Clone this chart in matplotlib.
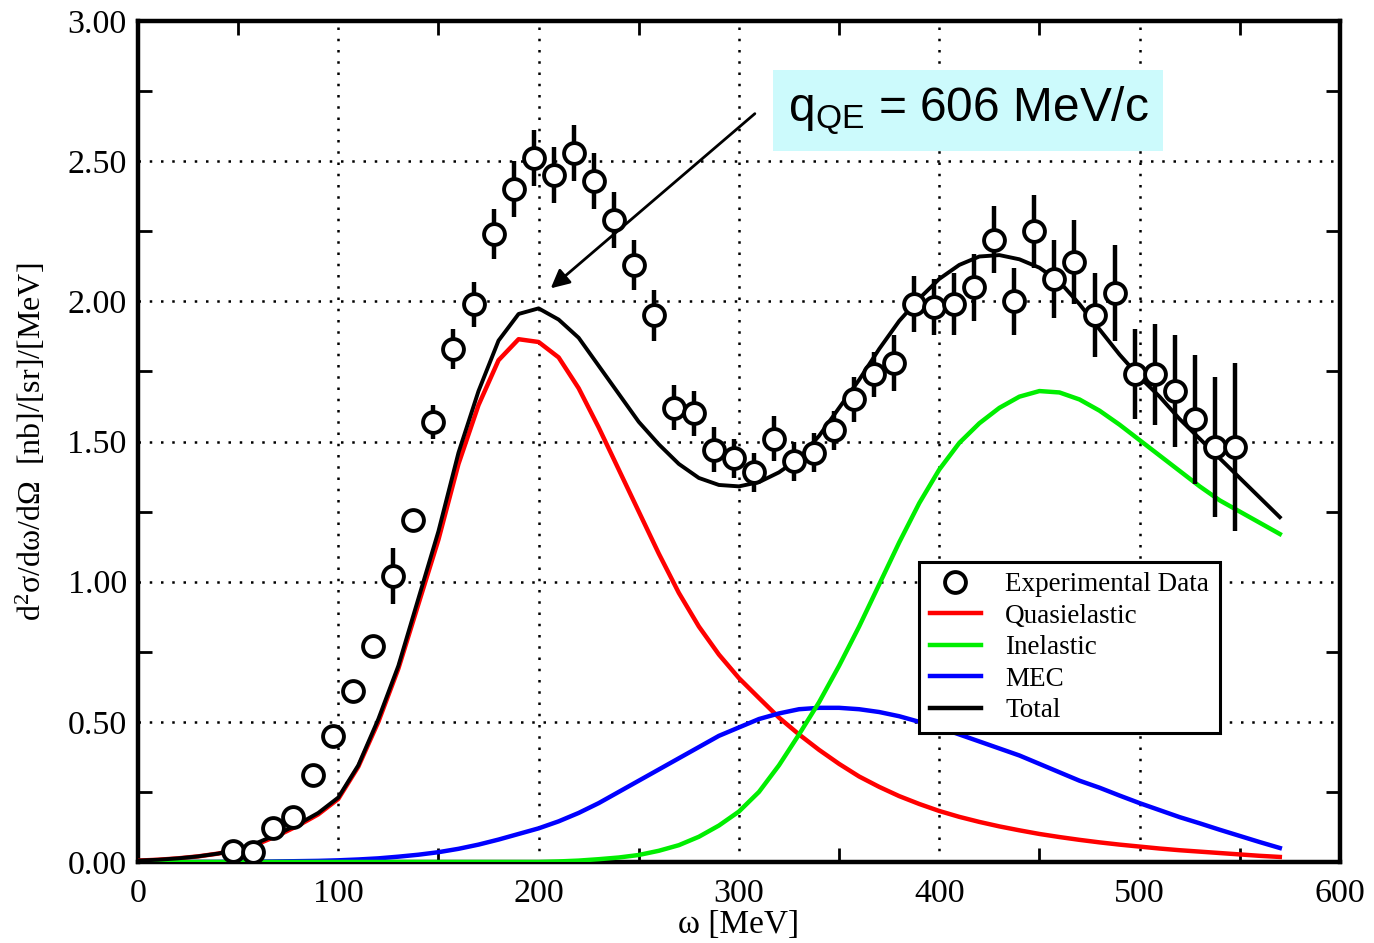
import matplotlib
matplotlib.use('Agg')
import matplotlib.pyplot as plt
from matplotlib.lines import Line2D
from matplotlib.ticker import MultipleLocator

plt.rcParams['font.family'] = ['Liberation Serif', 'DejaVu Serif']
plt.rcParams['mathtext.fontset'] = 'custom'
plt.rcParams['mathtext.rm'] = 'Liberation Sans'
plt.rcParams['mathtext.it'] = 'Liberation Sans:italic'

# experimental points: omega [MeV], cross section, error
exp_x = [47.5, 57.5, 67.5, 77.5, 87.5, 97.5, 107.5, 117.5, 127.5, 137.5,
         147.5, 157.5, 167.5, 177.5, 187.5, 197.5, 207.5, 217.5, 227.5, 237.5,
         247.5, 257.5, 267.5, 277.5, 287.5, 297.5, 307.5, 317.5, 327.5, 337.5,
         347.5, 357.5, 367.5, 377.5, 387.5, 397.5, 407.5, 417.5, 427.5, 437.5,
         447.5, 457.5, 467.5, 477.5, 487.5, 497.5, 507.5, 517.5, 527.5, 537.5,
         547.5]
exp_y = [0.04, 0.035, 0.12, 0.16, 0.31, 0.45, 0.61, 0.77, 1.02, 1.22,
         1.57, 1.83, 1.99, 2.24, 2.40, 2.51, 2.45, 2.53, 2.43, 2.29,
         2.13, 1.95, 1.62, 1.60, 1.47, 1.44, 1.39, 1.51, 1.43, 1.46,
         1.54, 1.65, 1.74, 1.78, 1.99, 1.98, 1.99, 2.05, 2.22, 2.00,
         2.25, 2.08, 2.14, 1.95, 2.03, 1.74, 1.74, 1.68, 1.58, 1.48,
         1.48]
exp_err = [0.02, 0.02, 0.02, 0.02, 0.02, 0.02, 0.02, 0.02, 0.10, 0.03,
           0.06, 0.07, 0.08, 0.09, 0.10, 0.10, 0.10, 0.10, 0.10, 0.10,
           0.09, 0.09, 0.08, 0.08, 0.08, 0.07, 0.07, 0.08, 0.07, 0.07,
           0.07, 0.08, 0.08, 0.10, 0.10, 0.10, 0.11, 0.12, 0.12, 0.12,
           0.13, 0.14, 0.15, 0.15, 0.17, 0.16, 0.18, 0.20, 0.23, 0.25,
           0.30]

# model curves sampled every 10 MeV
omega = [0, 10, 20, 30, 40, 50, 60, 70, 80, 90, 100, 110, 120, 130, 140, 150,
         160, 170, 180, 190, 200, 210, 220, 230, 240, 250, 260, 270, 280, 290,
         300, 310, 320, 330, 340, 350, 360, 370, 380, 390, 400, 410, 420, 430,
         440, 450, 460, 470, 480, 490, 500, 510, 520, 530, 540, 550, 560, 570]
quasi = [0.005, 0.008, 0.013, 0.02, 0.03, 0.045, 0.065, 0.095, 0.13, 0.17,
         0.225, 0.34, 0.50, 0.69, 0.92, 1.15, 1.42, 1.63, 1.79, 1.865,
         1.855, 1.80, 1.69, 1.55, 1.40, 1.25, 1.10, 0.96, 0.84, 0.74,
         0.656, 0.585, 0.515, 0.455, 0.40, 0.35, 0.305, 0.268, 0.235, 0.207,
         0.182, 0.161, 0.143, 0.127, 0.113, 0.10, 0.089, 0.079, 0.07, 0.062,
         0.055, 0.048, 0.042, 0.037, 0.032, 0.027, 0.022, 0.018]
inelastic = [0, 0, 0, 0, 0, 0, 0, 0, 0, 0,
             0, 0, 0, 0, 0, 0, 0, 0, 0, 0,
             0.0, 0.002, 0.005, 0.01, 0.016, 0.025, 0.04, 0.06, 0.09, 0.13,
             0.18, 0.25, 0.345, 0.455, 0.57, 0.70, 0.84, 0.99, 1.14, 1.28,
             1.40, 1.495, 1.565, 1.62, 1.66, 1.68, 1.675, 1.65, 1.61, 1.56,
             1.505, 1.45, 1.395, 1.34, 1.29, 1.25, 1.21, 1.17]
mec = [0, 0, 0, 0, 0, 0.001, 0.001, 0.002, 0.003, 0.004,
       0.006, 0.009, 0.013, 0.019, 0.026, 0.035, 0.047, 0.062, 0.08, 0.10,
       0.12, 0.145, 0.175, 0.21, 0.25, 0.29, 0.33, 0.37, 0.41, 0.45,
       0.48, 0.51, 0.53, 0.545, 0.55, 0.55, 0.545, 0.535, 0.52, 0.50,
       0.48, 0.455, 0.43, 0.405, 0.38, 0.35, 0.32, 0.29, 0.265, 0.237,
       0.21, 0.185, 0.16, 0.138, 0.115, 0.093, 0.071, 0.05]
total = [0.005, 0.008, 0.013, 0.02, 0.03, 0.045, 0.07, 0.10, 0.135, 0.175,
         0.23, 0.345, 0.51, 0.70, 0.94, 1.18, 1.46, 1.68, 1.86, 1.955,
         1.975, 1.935, 1.87, 1.77, 1.67, 1.57, 1.49, 1.42, 1.37, 1.345,
         1.34, 1.355, 1.39, 1.44, 1.52, 1.62, 1.72, 1.83, 1.93, 2.01,
         2.08, 2.13, 2.16, 2.165, 2.15, 2.12, 2.07, 1.99, 1.90, 1.81,
         1.73, 1.66, 1.58, 1.51, 1.44, 1.37, 1.30, 1.23]

fig = plt.figure(figsize=(13.74, 9.43), dpi=100)
ax = fig.add_axes([0.1004, 0.0859, 0.8748, 0.8918])

ax.plot(omega, quasi, color='#ff0000', lw=3.2, zorder=3)
ax.plot(omega, mec, color='#0000ff', lw=3.2, zorder=3)
ax.plot(omega, inelastic, color='#00ee00', lw=3.2, zorder=3)
ax.plot(omega, total, color='black', lw=2.8, zorder=4)

ax.errorbar(exp_x, exp_y, yerr=exp_err, fmt='o', ms=15, mfc='white', mec='black',
            mew=2.8, ecolor='black', elinewidth=3.2, capsize=0, zorder=5)

ax.set_xlim(0, 600)
ax.set_ylim(0, 3.0)
ax.xaxis.set_major_locator(MultipleLocator(100))
ax.xaxis.set_minor_locator(MultipleLocator(50))
ax.yaxis.set_major_locator(MultipleLocator(0.5))
ax.yaxis.set_minor_locator(MultipleLocator(0.25))
ax.yaxis.set_major_formatter(lambda v, p: f'{v:.2f}')
ax.grid(which='major', color='black', linestyle=(0, (1, 3.5)), linewidth=1.8)
ax.tick_params(which='both', direction='in', top=True, right=True)
ax.tick_params(which='major', length=0, labelsize=24.5)
ax.tick_params(axis='x', which='major', pad=12)
ax.tick_params(axis='y', which='major', pad=8)
ax.tick_params(which='minor', length=10, width=2)
for s in ax.spines.values():
    s.set_linewidth(3.2)

ax.set_xlabel('ω [MeV]', fontsize=24, labelpad=0)
ax.set_ylabel(r'd$\mathregular{^2}$σ/dω/dΩ  [nb]/[sr]/[MeV]', fontsize=23, labelpad=14)

handles = [Line2D([], [], ls='none', marker='o', ms=15, mfc='white', mec='black', mew=2.8),
           Line2D([], [], color='#ff0000', lw=3.2),
           Line2D([], [], color='#00ee00', lw=3.2),
           Line2D([], [], color='#0000ff', lw=3.2),
           Line2D([], [], color='black', lw=3.2)]
labels = ['Experimental Data', 'Quasielastic', 'Inelastic', 'MEC', 'Total']
leg = ax.legend(handles, labels, loc='upper left', bbox_to_anchor=(0.650, 0.357),
                fontsize=19.5, frameon=True, fancybox=False, framealpha=1,
                edgecolor='black', handlelength=1.9, handletextpad=0.9,
                labelspacing=0.24, borderpad=0.38, borderaxespad=0)
leg.get_frame().set_linewidth(2.2)
leg.set_zorder(6)

ax.annotate('', xy=(205, 2.04), xytext=(309, 2.676),
            arrowprops=dict(arrowstyle='-|>', color='black', lw=2, mutation_scale=28),
            zorder=6)
ax.text(414.5, 2.68, r'q$_{\mathrm{QE}}$ = 606 MeV/c', ha='center', va='center',
        fontsize=34.5, family=['Liberation Sans'],
        bbox=dict(boxstyle='square,pad=0.3', fc='#ccfafc', ec='none'), zorder=6)

fig.savefig('out.png', dpi=100)
